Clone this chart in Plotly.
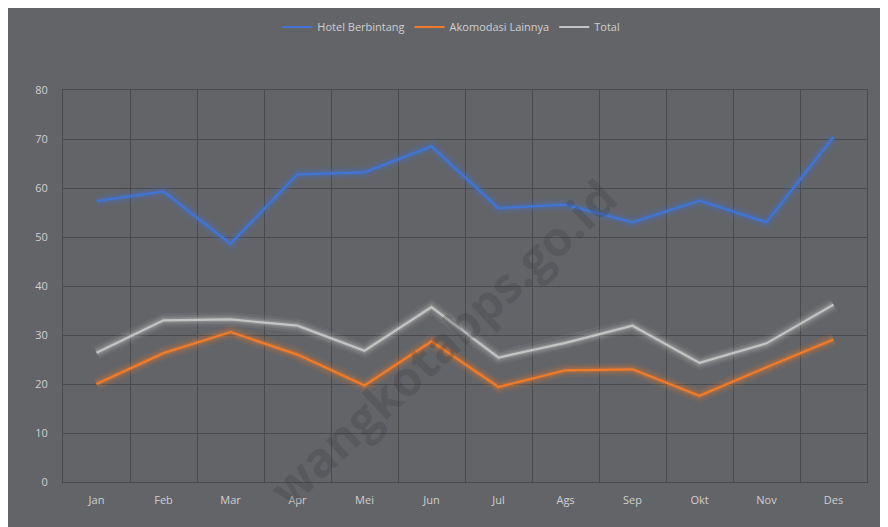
import plotly.graph_objects as go

months = ["Jan", "Feb", "Mar", "Apr", "Mei", "Jun", "Jul", "Ags", "Sep", "Okt", "Nov", "Des"]
hotel_berbintang = [57.3, 59.3, 48.6, 62.8, 63.2, 68.5, 55.9, 56.6, 53.0, 57.4, 53.0, 70.4]
akomodasi_lainnya = [20.0, 26.3, 30.6, 26.0, 19.7, 28.7, 19.4, 22.8, 23.0, 17.6, 23.4, 29.1]
total = [26.4, 33.0, 33.2, 31.9, 26.8, 35.7, 25.4, 28.4, 31.9, 24.3, 28.3, 36.2]

series = [
    ("Hotel Berbintang", hotel_berbintang, "#4174d3", "rgba(65,116,211,{a})"),
    ("Akomodasi Lainnya", akomodasi_lainnya, "#f07b2a", "rgba(240,123,42,{a})"),
    ("Total", total, "#c4c4c4", "rgba(196,196,196,{a})"),
]

BG = "#636468"
GRID = "#4a4a4d"
TXT = "#cfcfcf"
FONT = "Open Sans, Noto Sans, sans-serif"

fig = go.Figure()

# glow layers
for name, vals, col, rgba in series:
    for w, a in [(14, 0.08), (9, 0.15), (5, 0.25)]:
        fig.add_trace(go.Scatter(
            x=months, y=vals, mode="lines",
            line=dict(color=rgba.format(a=a), width=w),
            showlegend=False, hoverinfo="skip",
        ))

for name, vals, col, rgba in series:
    fig.add_trace(go.Scatter(
        x=months, y=vals, mode="lines", name=name,
        line=dict(color=col, width=2.2),
    ))

# page body has an 8px margin, so the figure is placed at (8, 8)
fig.update_layout(
    width=880, height=519,
    margin=dict(l=55, r=21, t=82, b=45, autoexpand=False),
    paper_bgcolor=BG,
    plot_bgcolor=BG,
    font=dict(family=FONT, size=11, color=TXT),
    legend=dict(
        orientation="h", x=0.483, xanchor="center", y=(392 + 82 - 19) / 392, yanchor="middle",
        bgcolor="rgba(0,0,0,0)", font=dict(size=11, color=TXT),
        itemwidth=30, tracegroupgap=0,
    ),
    annotations=[dict(
        text="<b>wangkotabps.go.id</b>", x=(442 - 63) / 804, y=(482 - 342) / 392,
        xref="paper", yref="paper", xanchor="center", yanchor="middle",
        showarrow=False, textangle=-43,
        font=dict(family="Open Sans, sans-serif", size=48, color="rgba(50,50,52,0.24)"),
    )],
)

fig.update_xaxes(
    type="category", tickson="boundaries", range=[-0.5, 11.5],
    showgrid=True, gridcolor=GRID, gridwidth=1,
    showline=True, linecolor=GRID, linewidth=1, mirror=True,
    ticks="", ticklen=0, tickfont=dict(color=TXT, size=11), zeroline=False,
    ticklabelstandoff=8,
)
fig.update_yaxes(
    range=[0, 80], dtick=10, showgrid=True, gridcolor=GRID, gridwidth=1,
    showline=True, linecolor=GRID, linewidth=1, mirror=True,
    ticks="", tickfont=dict(color=TXT, size=11), zeroline=False,
    ticklabelstandoff=12,
)

fig.write_html("out.html")
